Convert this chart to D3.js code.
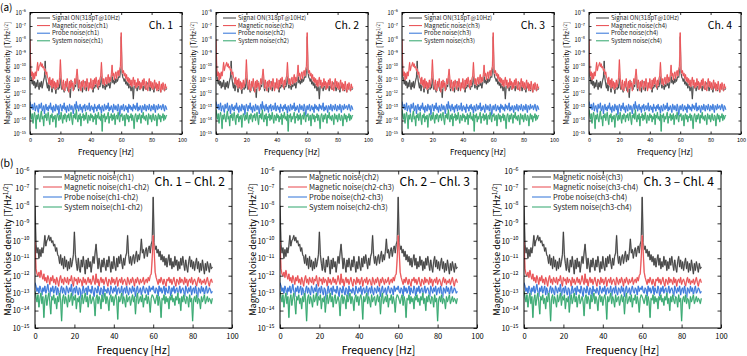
<!DOCTYPE html>
<html>
<head>
<meta charset="utf-8">
<script src="https://cdn.jsdelivr.net/npm/d3@7"></script>
<style>
body { margin: 0; background: #fff; }
svg { font-family: "Noto Sans CJK JP", "Noto Sans", sans-serif; }
</style>
</head>
<body>
<div></div>
<script>
var width = 747;
var height = 356;

// frequency grid [Hz], 0.5 Hz step from 0 to 90
var freqs = d3.range(0, 90.01, 0.5);

// all values are log10 of the noise density [T/Hz^1/2]
// (a) single channels
var signalOn = [-9.0,-10.6,-11.0,-11.3,-10.9,-11.4,-11.1,-11.6,-11.2,-11.5,
  -11.0,-11.4,-11.7,-11.2,-11.5,-11.1,-11.6,-11.3,-11.0,-10.8,
  -9.6,-10.9,-11.3,-11.6,-11.2,-11.8,-11.4,-11.1,-11.5,-11.9,
  -11.3,-11.6,-11.2,-11.5,-12.0,-11.4,-11.2,-11.7,-11.3,-11.6,
  -10.4,-11.3,-11.7,-11.2,-11.5,-11.9,-11.3,-11.6,-11.1,-11.5,
  -11.8,-11.3,-11.6,-12.3,-11.4,-11.1,-11.6,-11.3,-11.7,-11.2,
  -11.5,-11.0,-10.7,-11.4,-11.8,-11.3,-11.6,-11.2,-11.5,-11.9,
  -11.4,-11.1,-11.6,-11.3,-11.8,-11.4,-11.2,-11.7,-11.3,-11.5,
  -11.1,-11.6,-11.4,-11.9,-11.3,-11.6,-11.2,-11.5,-11.1,-11.4,
  -11.7,-11.3,-11.5,-11.2,-10.5,-11.3,-11.6,-11.2,-11.4,-11.7,
  -11.3,-11.5,-11.1,-11.4,-11.2,-11.6,-11.3,-11.0,-10.6,-11.2,
  -11.0,-11.3,-10.9,-11.2,-10.8,-11.1,-10.9,-10.7,-10.8,-10.3,
  -7.8,-10.4,-10.8,-10.9,-11.1,-10.9,-11.3,-11.1,-11.4,-11.2,
  -11.6,-11.3,-11.5,-11.8,-11.4,-11.6,-12.4,-11.5,-11.3,-11.6,
  -11.4,-11.8,-11.5,-11.3,-11.7,-11.4,-11.6,-11.2,-11.5,-11.8,
  -11.4,-11.6,-11.3,-11.7,-11.5,-11.2,-11.6,-11.4,-11.8,-11.5,
  -11.3,-11.7,-11.5,-11.9,-11.4,-11.6,-11.3,-11.7,-11.5,-11.8,
  -11.4,-11.6,-11.9,-11.5,-11.7,-11.4,-11.6,-11.8,-11.5,-11.7,
  -11.6];
var magNoise = [-8.0,-10.2,-10.7,-10.4,-11.0,-10.5,-10.9,-10.4,-10.7,-10.3,
  -9.7,-10.3,-10.0,-9.9,-9.7,-10.0,-9.8,-10.1,-10.0,-10.3,
  -10.2,-10.6,-10.4,-10.8,-10.9,-11.3,-10.8,-11.4,-11.0,-11.6,
  -10.9,-11.5,-11.1,-11.7,-11.2,-11.6,-11.0,-11.5,-11.2,-10.8,
  -9.5,-10.8,-11.3,-11.7,-11.0,-11.6,-11.8,-11.1,-11.5,-10.9,
  -11.4,-11.9,-11.1,-11.6,-11.0,-11.5,-11.2,-11.8,-11.3,-10.9,
  -11.3,-10.7,-10.2,-10.9,-11.6,-11.0,-11.4,-11.8,-11.1,-11.5,
  -11.0,-11.4,-11.7,-11.1,-11.5,-10.9,-11.3,-11.8,-11.2,-11.6,
  -10.9,-11.4,-11.7,-11.0,-11.5,-10.9,-11.3,-10.8,-11.2,-11.6,
  -11.0,-11.4,-10.9,-10.7,-9.7,-10.8,-11.3,-10.9,-11.4,-11.0,
  -10.8,-11.3,-10.9,-10.6,-11.2,-10.8,-11.1,-10.6,-9.9,-10.7,
  -10.5,-11.0,-10.6,-10.4,-10.9,-10.5,-10.3,-10.7,-10.2,-10.0,
  -7.5,-10.1,-10.5,-10.3,-10.7,-10.5,-10.9,-10.6,-11.1,-10.8,
  -11.2,-10.9,-11.4,-11.0,-11.5,-11.1,-10.8,-11.4,-11.0,-11.6,
  -11.2,-11.5,-10.9,-11.4,-11.1,-11.7,-11.2,-11.6,-11.0,-11.4,
  -10.9,-11.3,-11.7,-11.1,-11.5,-11.8,-11.2,-10.9,-11.5,-11.1,
  -11.6,-11.2,-11.7,-11.3,-11.0,-11.6,-11.2,-11.8,-11.3,-11.7,
  -11.1,-11.5,-11.9,-11.3,-11.7,-11.2,-11.5,-11.8,-11.3,-11.6,
  -11.5];
var probeNoise = [-12.6,
  -12.9,-13.1,-12.8,-13.2,-13.0,-12.7,-13.3,-13.0,-12.9,-13.2,
  -13.4,-12.8,-13.1,-13.0,-12.7,-13.3,-13.1,-12.9,-13.5,-13.0,
  -12.8,-13.2,-13.0,-13.3,-12.9,-13.1,-12.7,-13.2,-13.0,-13.4,
  -12.9,-13.1,-13.3,-12.8,-13.0,-13.2,-12.9,-13.6,-13.1,-12.8,
  -13.0,-13.3,-12.9,-13.1,-12.7,-13.2,-13.0,-13.4,-12.9,-13.1,
  -13.3,-12.8,-13.0,-13.2,-12.9,-13.1,-13.5,-13.0,-12.8,-13.2,
  -12.6,-13.1,-12.9,-13.3,-13.0,-12.8,-13.2,-13.0,-13.4,-12.9,
  -13.1,-12.8,-13.3,-13.0,-12.9,-13.2,-13.1,-12.7,-13.3,-13.0,
  -12.9,-13.2,-13.0,-13.4,-12.8,-13.1,-13.0,-13.3,-12.9,-13.1,
  -12.8,-13.2,-13.0,-13.5,-12.9,-13.1,-13.3,-12.8,-13.0,-13.2,
  -12.9,-13.1,-12.7,-13.3,-13.0,-13.2,-12.9,-13.1,-13.4,-12.8,
  -13.0,-13.2,-12.9,-13.1,-13.3,-12.8,-13.0,-13.7,-13.1,-12.9,
  -13.2,-13.0,-12.8,-13.3,-13.1,-12.9,-13.2,-13.0,-13.4,-12.8,
  -13.1,-12.9,-13.2,-13.0,-13.3,-12.8,-13.1,-12.9,-13.2,-13.0,
  -12.7,-13.3,-13.0,-13.2,-12.9,-13.1,-13.4,-12.9,-13.0,-13.2,
  -12.8,-13.1,-13.3,-12.9,-13.0,-13.2,-12.8,-13.1,-13.3,-12.9,
  -13.0,-13.2,-12.8,-13.1,-13.4,-12.9,-13.0,-13.2,-12.8,-13.1,
  -13.0,-12.9,-13.2,-13.0,-12.8,-13.1,-13.3,-12.9,-13.0,-13.2];
var systemNoise = [-13.2,
  -13.6,-13.9,-13.5,-14.2,-13.7,-13.4,-13.8,-14.6,-13.6,-13.9,
  -13.5,-13.8,-14.1,-13.6,-13.3,-13.9,-13.7,-14.4,-13.6,-13.8,
  -13.5,-14.0,-13.7,-13.4,-13.9,-14.3,-13.6,-13.8,-13.5,-14.1,
  -13.7,-13.9,-13.6,-14.5,-13.8,-13.5,-13.7,-14.0,-13.6,-13.9,
  -13.4,-13.8,-14.2,-13.6,-13.9,-13.5,-13.7,-14.1,-13.6,-13.8,
  -13.5,-14.0,-13.7,-13.4,-13.9,-14.3,-13.6,-13.8,-13.5,-13.9,
  -13.2,-13.8,-14.1,-13.6,-13.9,-13.5,-14.4,-13.7,-13.8,-13.5,
  -14.0,-13.6,-13.9,-13.4,-13.8,-14.2,-13.6,-13.7,-14.0,-13.5,
  -13.8,-13.6,-14.1,-13.7,-13.9,-13.5,-14.3,-13.6,-13.8,-13.4,
  -13.9,-13.7,-14.0,-13.5,-14.8,-13.6,-13.8,-13.5,-14.1,-13.7,
  -13.9,-13.6,-13.4,-14.2,-13.7,-13.8,-13.5,-14.0,-13.6,-13.9,
  -13.5,-14.3,-13.7,-13.6,-13.9,-13.4,-13.8,-14.1,-13.6,-13.7,
  -13.5,-14.0,-13.8,-13.6,-14.4,-13.7,-13.5,-13.9,-13.6,-14.1,
  -13.7,-13.8,-13.5,-14.0,-13.6,-13.9,-14.6,-13.7,-13.5,-13.8,
  -14.1,-13.6,-13.9,-13.5,-13.7,-14.2,-13.6,-13.8,-13.4,-13.9,
  -13.7,-14.0,-13.6,-13.8,-14.3,-13.5,-13.7,-13.9,-13.6,-14.1,
  -13.8,-13.5,-13.9,-14.0,-13.6,-13.7,-14.4,-13.8,-13.5,-13.9,
  -13.6,-14.1,-13.7,-13.8,-13.5,-14.0,-13.6,-13.9,-13.7,-13.6];

// (b) channel differences
var magDiff = [-10.0,-11.6,-11.9,-12.0,-11.8,-12.1,-11.7,-12.0,-12.2,-11.9,
  -12.3,-12.1,-12.4,-12.0,-12.2,-12.5,-12.1,-12.3,-12.0,-12.4,
  -12.2,-12.5,-12.1,-12.3,-12.6,-12.2,-12.0,-12.4,-12.2,-12.5,
  -12.1,-12.3,-12.4,-12.1,-12.5,-12.2,-12.3,-12.0,-12.4,-12.6,
  -12.1,-12.3,-12.2,-12.5,-12.1,-12.4,-12.2,-12.3,-12.6,-12.1,
  -12.4,-12.2,-12.5,-12.3,-12.1,-12.4,-12.2,-12.5,-12.3,-12.0,
  -12.3,-12.5,-11.9,-12.4,-12.2,-12.6,-12.3,-12.1,-12.4,-12.2,
  -12.5,-12.3,-12.1,-12.4,-12.6,-12.2,-12.3,-12.5,-12.1,-12.4,
  -12.2,-12.5,-12.3,-12.1,-12.6,-12.3,-12.2,-12.4,-12.1,-12.5,
  -12.3,-12.2,-12.4,-12.6,-12.1,-12.3,-12.5,-12.2,-12.4,-12.1,
  -12.3,-12.6,-12.2,-12.4,-12.1,-12.3,-12.5,-12.2,-12.4,-12.3,
  -12.1,-12.5,-12.3,-12.2,-12.4,-12.1,-12.3,-12.0,-11.9,-11.0,
  -9.7,-10.6,-11.8,-12.1,-12.3,-12.5,-12.2,-12.4,-12.1,-12.3,
  -12.5,-12.2,-12.4,-12.6,-12.2,-12.3,-12.1,-12.4,-12.2,-12.5,
  -12.3,-12.1,-12.4,-12.6,-12.2,-12.3,-12.5,-12.1,-12.4,-12.2,
  -12.3,-12.5,-12.1,-12.4,-12.2,-12.6,-12.3,-12.2,-12.4,-12.1,
  -12.5,-12.3,-12.2,-12.4,-12.6,-12.3,-12.1,-12.4,-12.2,-12.5,
  -12.3,-12.4,-12.2,-12.5,-12.3,-12.1,-12.4,-12.6,-12.3,-12.2,
  -12.4];
var probeDiff = [-12.4,-12.6,-12.9,-12.7,-13.0,-12.6,-12.8,-13.1,-12.7,-12.9,
  -12.6,-13.0,-12.8,-12.5,-12.9,-13.2,-12.7,-12.9,-12.6,-13.0,
  -12.8,-12.6,-13.1,-12.7,-12.9,-13.3,-12.8,-12.6,-13.0,-12.7,
  -12.9,-13.1,-12.6,-12.8,-13.0,-12.7,-12.9,-12.5,-13.2,-12.8,
  -12.7,-13.0,-12.6,-12.9,-13.1,-12.7,-12.8,-13.6,-12.9,-12.6,
  -13.0,-12.8,-12.7,-13.1,-12.6,-12.9,-12.8,-13.0,-12.6,-12.9,
  -13.2,-12.7,-12.8,-13.0,-12.6,-12.9,-13.1,-12.7,-12.8,-13.3,
  -12.6,-12.9,-12.8,-13.0,-12.7,-12.9,-13.1,-12.6,-12.8,-13.0,
  -12.7,-12.9,-12.6,-13.1,-12.8,-12.7,-13.0,-12.9,-12.6,-13.2,
  -12.8,-12.7,-13.0,-12.6,-12.9,-13.1,-12.7,-12.8,-13.0,-12.6,
  -12.9,-12.7,-13.2,-12.8,-12.6,-13.0,-12.9,-12.7,-13.1,-12.8,
  -12.6,-12.9,-13.0,-12.7,-12.8,-13.1,-12.6,-12.9,-12.7,-12.8,
  -12.6,-12.9,-13.0,-12.7,-12.8,-13.2,-12.6,-12.9,-12.7,-13.0,
  -12.8,-12.6,-13.1,-12.7,-12.9,-13.0,-12.6,-12.8,-13.3,-12.7,
  -12.9,-12.6,-13.0,-12.8,-12.7,-13.1,-12.9,-12.6,-13.0,-12.8,
  -12.7,-12.9,-13.2,-12.6,-12.8,-13.0,-12.7,-12.9,-12.6,-13.1,
  -12.8,-12.7,-13.0,-12.6,-12.9,-13.4,-12.7,-12.8,-13.0,-12.6,
  -12.9,-12.7,-13.1,-12.8,-12.6,-13.0,-12.9,-12.7,-12.8,-13.0,
  -12.9];
var systemDiff = [-12.9,-13.2,-13.5,-13.1,-13.8,-13.3,-13.0,-13.6,-13.2,-14.4,
  -13.4,-13.1,-13.7,-13.3,-13.0,-13.5,-14.2,-13.2,-13.4,-13.1,
  -13.6,-13.3,-13.9,-13.2,-13.5,-13.0,-13.4,-14.6,-13.3,-13.1,
  -13.6,-13.2,-13.4,-13.8,-13.1,-13.5,-13.3,-13.0,-13.7,-13.2,
  -13.4,-13.1,-13.9,-13.3,-13.5,-13.2,-14.1,-13.4,-13.1,-13.6,
  -13.3,-13.0,-13.5,-13.2,-13.8,-13.3,-13.1,-13.6,-13.4,-13.2,
  -13.5,-14.3,-13.3,-13.1,-13.6,-13.2,-13.4,-13.9,-13.1,-13.5,
  -13.3,-13.0,-13.6,-13.2,-13.4,-14.0,-13.3,-13.1,-13.5,-13.2,
  -13.7,-13.3,-13.1,-13.4,-14.5,-13.2,-13.5,-13.3,-13.0,-13.6,
  -13.2,-13.4,-13.8,-13.1,-13.5,-13.3,-13.2,-13.7,-13.4,-13.1,
  -13.5,-13.2,-14.2,-13.3,-13.0,-13.6,-13.4,-13.2,-13.5,-13.1,
  -13.8,-13.3,-13.4,-13.1,-13.6,-13.2,-13.5,-14.1,-13.3,-13.1,
  -13.2,-13.4,-13.6,-13.3,-13.1,-13.7,-13.2,-13.5,-14.4,-13.3,
  -13.4,-13.1,-13.6,-13.2,-13.5,-13.3,-13.9,-13.2,-13.4,-13.1,
  -13.5,-13.3,-13.7,-13.2,-13.4,-13.0,-13.6,-13.3,-14.0,-13.2,
  -13.5,-13.1,-13.4,-13.6,-13.2,-13.3,-13.8,-13.1,-13.5,-13.3,
  -14.6,-13.4,-13.2,-13.5,-13.1,-13.6,-13.3,-13.4,-13.9,-13.2,
  -13.5,-13.3,-13.1,-13.6,-13.4,-13.2,-13.5,-13.3,-13.4,-13.6,
  -13.3];

var topChannels = ["ch1", "ch2", "ch3", "ch4"];
var topTitles = ["Ch. 1", "Ch. 2", "Ch. 3", "Ch. 4"];
var bottomChannels = ["ch1", "ch2", "ch3"];
var bottomPairs = ["ch1-ch2", "ch2-ch3", "ch3-ch4"];
var bottomTitles = ["Ch. 1 \u2013 Chl. 2", "Ch. 2 \u2013 Chl. 3", "Ch. 3 \u2013 Chl. 4"];
var xTicks = [0, 20, 40, 60, 80, 100];
var yDecades = [-15, -14, -13, -12, -11, -10, -9, -8, -7, -6];

// line colour and its pale halo
var colGray = ["#3c3c3c", "#ababab"];
var colRed = ["#e8474c", "#f5b0b0"];
var colBlue = ["#2f72d8", "#a3c0ef"];
var colGreen = ["#2fa56c", "#a5d9bd"];

var svg = d3.select("div")
    .append("svg")
    .attr("width", width)
    .attr("height", height);

var clipCount = 0;

function drawPanel(p) {
    var x = d3.scaleLinear().domain([0, 100]).range([p.left, p.right]);
    var y = d3.scaleLog().domain([1e-15, 1e-6]).range([p.bottom, p.top]);
    var g = svg.append("g");

    var id = "clip" + (clipCount++);
    svg.append("clipPath").attr("id", id)
        .append("rect")
        .attr("x", p.left).attr("y", p.top)
        .attr("width", p.right - p.left).attr("height", p.bottom - p.top);

    var line = d3.line()
        .x(function (d, i) { return x(freqs[i]); })
        .y(function (d) { return y(Math.pow(10, d)); });

    var plot = g.append("g").attr("clip-path", "url(#" + id + ")");
    p.series.forEach(function (s) {
        plot.append("path")
            .datum(s.values)
            .attr("fill", "none")
            .attr("stroke", s.color[1])
            .attr("stroke-width", p.lw * 1.7)
            .attr("stroke-linejoin", "round")
            .attr("d", line);
        plot.append("path")
            .datum(s.values)
            .attr("fill", "none")
            .attr("stroke", s.color[0])
            .attr("stroke-width", p.lw)
            .attr("stroke-linejoin", "round")
            .attr("d", line);
    });

    // ticks on all four sides, pointing in
    var yVals = yDecades.map(function (e) { return Math.pow(10, e); });
    var ax = [
        [d3.axisBottom(x).tickValues(xTicks), "translate(0," + p.bottom + ")", true],
        [d3.axisTop(x).tickValues(xTicks), "translate(0," + p.top + ")", false],
        [d3.axisLeft(y).tickValues(yVals), "translate(" + p.left + ",0)", true],
        [d3.axisRight(y).tickValues(yVals), "translate(" + p.right + ",0)", false]
    ];
    ax.forEach(function (a, k) {
        var axis = a[0].tickSize(-p.tick).tickPadding(p.tick + p.pad);
        if (!a[2]) axis.tickFormat("");
        var ag = g.append("g").attr("transform", a[1]).call(axis);
        ag.select(".domain").remove();
        ag.selectAll("line").attr("stroke", "#000").attr("stroke-width", 0.8);
        ag.selectAll("text")
            .attr("font-family", "Noto Sans CJK JP, Noto Sans, sans-serif")
            .attr("font-size", p.tickFont)
            .attr("fill", "#000");
        if (k == 2) {
            ag.selectAll("text").each(function (d) {
                var e = Math.round(Math.log10(d));
                var t = d3.select(this).text(null);
                t.append("tspan").text("10");
                t.append("tspan")
                    .attr("dy", -p.tickFont * 0.45)
                    .attr("font-size", p.tickFont * 0.7)
                    .text("\u2212" + (-e));
            });
        }
    });

    g.append("rect")
        .attr("x", p.left).attr("y", p.top)
        .attr("width", p.right - p.left).attr("height", p.bottom - p.top)
        .attr("fill", "none").attr("stroke", "#000").attr("stroke-width", 1);

    // axis titles
    g.append("text")
        .attr("x", (p.left + p.right) / 2)
        .attr("y", p.xLabelY)
        .attr("text-anchor", "middle")
        .attr("font-size", p.labelFont)
        .text("Frequency [Hz]");

    var yl = g.append("text")
        .attr("transform", "translate(" + (p.left - p.yLabelOff) + "," + ((p.top + p.bottom) / 2) + ") rotate(-90)")
        .attr("text-anchor", "middle")
        .attr("dy", "0.35em")
        .attr("font-size", p.yLabelFont);
    yl.append("tspan").text("Magnetic Noise density [T/Hz");
    yl.append("tspan").attr("dy", -p.yLabelFont * 0.4).attr("font-size", p.yLabelFont * 0.65).text("1/2");
    yl.append("tspan").attr("dy", p.yLabelFont * 0.4).text("]");

    // legend
    p.series.forEach(function (s, i) {
        var ly = p.top + p.legTop + i * p.legStep;
        g.append("line")
            .attr("x1", p.left + p.legX0).attr("x2", p.left + p.legX1)
            .attr("y1", ly).attr("y2", ly)
            .attr("stroke", s.color[0]).attr("stroke-width", 1);
        g.append("text")
            .attr("x", p.left + p.legX1 + 2)
            .attr("y", ly)
            .attr("dy", "0.35em")
            .attr("font-size", p.legFont)
            .attr("fill", "#222")
            .text(s.name);
    });

    g.append("text")
        .attr("x", p.right - p.titleRight)
        .attr("y", p.top + p.titleY)
        .attr("text-anchor", "end")
        .attr("font-size", p.titleFont)
        .text(p.title);
}

// (a) row
var topLefts = [30, 216, 402, 589];
topChannels.forEach(function (ch, i) {
    drawPanel({
        left: topLefts[i], right: topLefts[i] + 152, top: 12.5, bottom: 134,
        lw: 0.8, tick: 2.5, pad: 1.5, tickFont: 5.5,
        labelFont: 8, xLabelY: 155, yLabelFont: 7, yLabelOff: 22,
        legTop: 5.5, legStep: 7.6, legX0: 7, legX1: 20, legFont: 6,
        title: topTitles[i], titleFont: 10.5, titleRight: 9, titleY: 16,
        series: [
            { name: "Signal ON(318pT@10Hz)", values: signalOn, color: colGray },
            { name: "Magnetic noise(" + ch + ")", values: magNoise, color: colRed },
            { name: "Probe noise(" + ch + ")", values: probeNoise, color: colBlue },
            { name: "System noise(" + ch + ")", values: systemNoise, color: colGreen }
        ]
    });
});

// (b) row
var bottomLefts = [35, 280, 524];
bottomChannels.forEach(function (ch, i) {
    var pr = bottomPairs[i];
    drawPanel({
        left: bottomLefts[i], right: bottomLefts[i] + 197, top: 171, bottom: 328,
        lw: 0.9, tick: 3.5, pad: 2, tickFont: 7.5,
        labelFont: 10.5, xLabelY: 354, yLabelFont: 9, yLabelOff: 27,
        legTop: 6, legStep: 10, legX0: 8, legX1: 27, legFont: 7.5,
        title: bottomTitles[i], titleFont: 12, titleRight: 7, titleY: 15,
        series: [
            { name: "Magnetic noise(" + ch + ")", values: magNoise, color: colGray },
            { name: "Magnetic noise(" + pr + ")", values: magDiff, color: colRed },
            { name: "Probe noise(" + pr + ")", values: probeDiff, color: colBlue },
            { name: "System noise(" + pr + ")", values: systemDiff, color: colGreen }
        ]
    });
});

svg.append("text").attr("x", 0).attr("y", 11).attr("font-size", 10).text("(a)");
svg.append("text").attr("x", 0).attr("y", 167).attr("font-size", 10.5).text("(b)");
</script>
</body>
</html>
